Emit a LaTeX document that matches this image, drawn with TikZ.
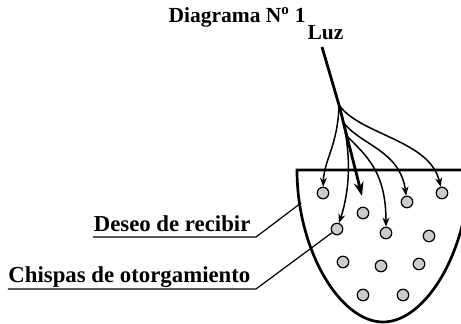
\documentclass[tikz,border=0pt]{standalone}
\usepackage{fontspec}
\setmainfont{Liberation Serif}
\usetikzlibrary{arrows.meta}
\begin{document}
\begin{tikzpicture}[x=1pt,y=-1pt,line width=1.2pt,
	chispa/.style={circle,draw,fill=gray!40,minimum size=11.5pt,inner sep=0pt},
	rotulo/.style={font=\bfseries\fontsize{22.8}{26}\selectfont,inner sep=0pt},
	rayo/.style={line width=1.5pt,-{Stealth[length=9pt,width=7pt]}}]
	\useasboundingbox (0,0) rectangle (461,324);
	
	%título
	\node[rotulo,font=\bfseries\fontsize{21.5}{25}\selectfont,anchor=base west] (titulo) at (168,22) {Diagrama N\textsuperscript{o} 1};
	\node[rotulo,font=\bfseries\fontsize{21.5}{25}\selectfont,anchor=base west] (luz) at (307,39) {Luz};
	
	%recipiente
	\begin{scope}
		\clip (0,0) rectangle (461,324);
		\draw[line width=2.7pt] (470,170) -- (297,170) .. controls (297,250) and (340,322) .. (383,322) .. controls (426,322) and (469,250) .. (469,170);
	\end{scope}
	
	%chispas
	\foreach \x/\y [count=\i] in {323/193,363/213,407/202,442/193,337/229,386/233,429/236,343/262,381/266,419/264,363/295,403/295}
	\node[chispa] (d\i) at (\x,\y) {};
	
	%rayo de luz
	\coordinate (fuente) at (322,47);
	\coordinate (b0) at (339,105);
	\coordinate (b1) at (343,122);
	\coordinate (b2) at (346,135);
	\coordinate (punta) at (362,196);
	\draw[line width=2.8pt,-{Stealth[length=14pt,width=10pt]}] (fuente) -- (b0) -- (punta);
	
	\draw[rayo] (b0) .. controls (338,145) and (324,160) .. (d1);
	\draw[rayo] (b1) .. controls (351,155) and (350,190) .. (d5);
	\draw[rayo] (b2) .. controls (365,155) and (386,170) .. (d6);
	\draw[rayo] (b1) .. controls (360,145) and (400,150) .. (d3);
	\draw[rayo] (b0) .. controls (360,135) and (430,140) .. (d4);
	
	%rótulos
	\node[rotulo,anchor=base east] (deseo) at (251,231) {Deseo de recibir};
	\node[rotulo,anchor=base east] (chispas) at (251,282) {Chispas de otorgamiento};
	\coordinate (c1) at (256,237);
	\coordinate (borde) at (301,203);
	\coordinate (c2) at (256,289);
	\draw (deseo.base west |- c1) -- (c1) -- (borde);
	\draw (chispas.base west |- c2) -- (c2) -- (d5);
\end{tikzpicture}
\end{document}
